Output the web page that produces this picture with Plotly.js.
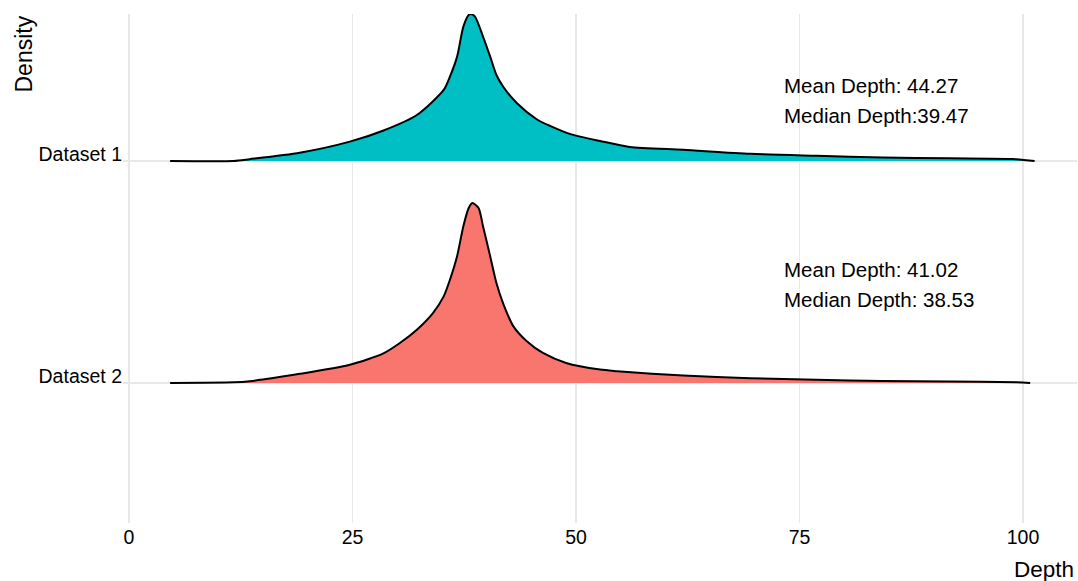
<!DOCTYPE html>
<html>
<head>
<meta charset="utf-8">
<script src="https://cdn.plot.ly/plotly-3.0.1.min.js"></script>
<style>html,body{margin:0;padding:0;background:#fff;}#chart{width:1078px;height:581px;}</style>
</head>
<body>
<div id="chart"></div>
<script>
// Category labels (row positions: Dataset 1 on top)
const categories = ["Dataset 1", "Dataset 2"];
const rowPos = [1, 0];

// Dataset 1 ridge: depth values and ridge height (fraction of row spacing)
const depth1 = [4.6, 11.7, 13.5, 19.1, 24.7, 28.4, 32.2, 35.2, 35.9, 36.7, 37.4, 38.0, 38.2, 38.7, 39.6, 40.4, 41.1, 41.9, 43.4, 45.6, 47.1, 49.3, 52.7, 56.0, 62.0, 69.5, 76.9, 84.3, 91.8, 98.9, 101.3];
const dens1  = [0, 0, 0.008, 0.037, 0.087, 0.136, 0.207, 0.320, 0.380, 0.470, 0.605, 0.658, 0.662, 0.650, 0.560, 0.470, 0.387, 0.332, 0.260, 0.188, 0.158, 0.122, 0.090, 0.063, 0.050, 0.032, 0.023, 0.015, 0.012, 0.009, 0];

// Dataset 2 ridge
const depth2 = [4.6, 11.7, 13.5, 19.1, 24.7, 28.4, 30.3, 32.2, 34.0, 35.2, 35.9, 36.7, 37.4, 38.0, 38.4, 39.1, 39.6, 40.4, 41.1, 41.9, 43.0, 44.5, 46.3, 48.9, 52.7, 54.6, 62.0, 69.5, 76.9, 84.3, 91.8, 99.3, 100.8];
const dens2  = [0, 0.003, 0.008, 0.041, 0.082, 0.132, 0.180, 0.240, 0.315, 0.390, 0.465, 0.571, 0.706, 0.788, 0.811, 0.788, 0.706, 0.571, 0.450, 0.353, 0.255, 0.188, 0.135, 0.090, 0.060, 0.053, 0.033, 0.021, 0.014, 0.009, 0.006, 0.003, 0];

// Summary statistics text
const meanText = ["Mean Depth: 44.27", "Mean Depth: 41.02"];
const medianText = ["Median Depth:39.47", "Median Depth: 38.53"];
const xTicks = [0, 25, 50, 75, 100];

const fills = ["#00BFC4", "#F8766D"];
const series = [[depth1, dens1], [depth2, dens2]];
// label offsets above each row baseline (in row units)
const meanOffset = [0.338, 0.509];
const medianOffset = [0.205, 0.376];

const traces = [];
series.forEach((s, i) => {
  const base = rowPos[i];
  traces.push({
    x: s[0], y: s[0].map(() => base), type: "scatter", mode: "lines",
    line: {width: 0, color: "rgba(0,0,0,0)"}, hoverinfo: "skip", showlegend: false
  });
  traces.push({
    x: s[0], y: s[1].map(v => base + v), type: "scatter", mode: "lines",
    fill: "tonexty", fillcolor: fills[i],
    line: {color: "#000", width: 2, shape: "spline", smoothing: 0.7},
    name: categories[i], showlegend: false
  });
});

const font = "Liberation Sans, Arial, sans-serif";
const annotations = [];
rowPos.forEach((base, i) => {
  annotations.push({x: 73, y: base + meanOffset[i], xref: "x", yref: "y", text: meanText[i], showarrow: false,
    xanchor: "left", yanchor: "middle", font: {family: font, size: 20.5, color: "#000"}});
  annotations.push({x: 73, y: base + medianOffset[i], xref: "x", yref: "y", text: medianText[i], showarrow: false,
    xanchor: "left", yanchor: "middle", font: {family: font, size: 20.5, color: "#000"}});
});
annotations.push({x: 0, y: 1, xref: "paper", yref: "paper", xshift: -100, text: "Density", textangle: -90,
  showarrow: false, xanchor: "center", yanchor: "top", font: {family: font, size: 23, color: "#000"}});
annotations.push({x: 1, y: 0, xref: "paper", yref: "paper", yshift: -46, xshift: -1, text: "Depth",
  showarrow: false, xanchor: "right", yanchor: "middle", font: {family: font, size: 22.5, color: "#000"}});

const layout = {
  width: 1078, height: 581,
  margin: {l: 123, r: 1, t: 14, b: 58},
  paper_bgcolor: "#fff", plot_bgcolor: "#fff",
  showlegend: false,
  xaxis: {range: [-0.67, 106.04], tickvals: xTicks, ticktext: xTicks.map(String),
    showgrid: true, gridcolor: "#e8e8e8", gridwidth: 1.8, zeroline: false, showline: false,
    ticks: "", tickfont: {family: font, size: 19.5, color: "#000"}},
  yaxis: {range: [-0.631, 1.662], tickvals: rowPos, ticktext: categories,
    showgrid: true, gridcolor: "#e8e8e8", gridwidth: 1.8, zeroline: false, showline: false,
    ticks: "", ticklabelshift: -7, tickfont: {family: font, size: 19.5, color: "#000"}},
  annotations: annotations
};

Plotly.newPlot("chart", traces, layout, {displayModeBar: false, staticPlot: true});
</script>
</body>
</html>
